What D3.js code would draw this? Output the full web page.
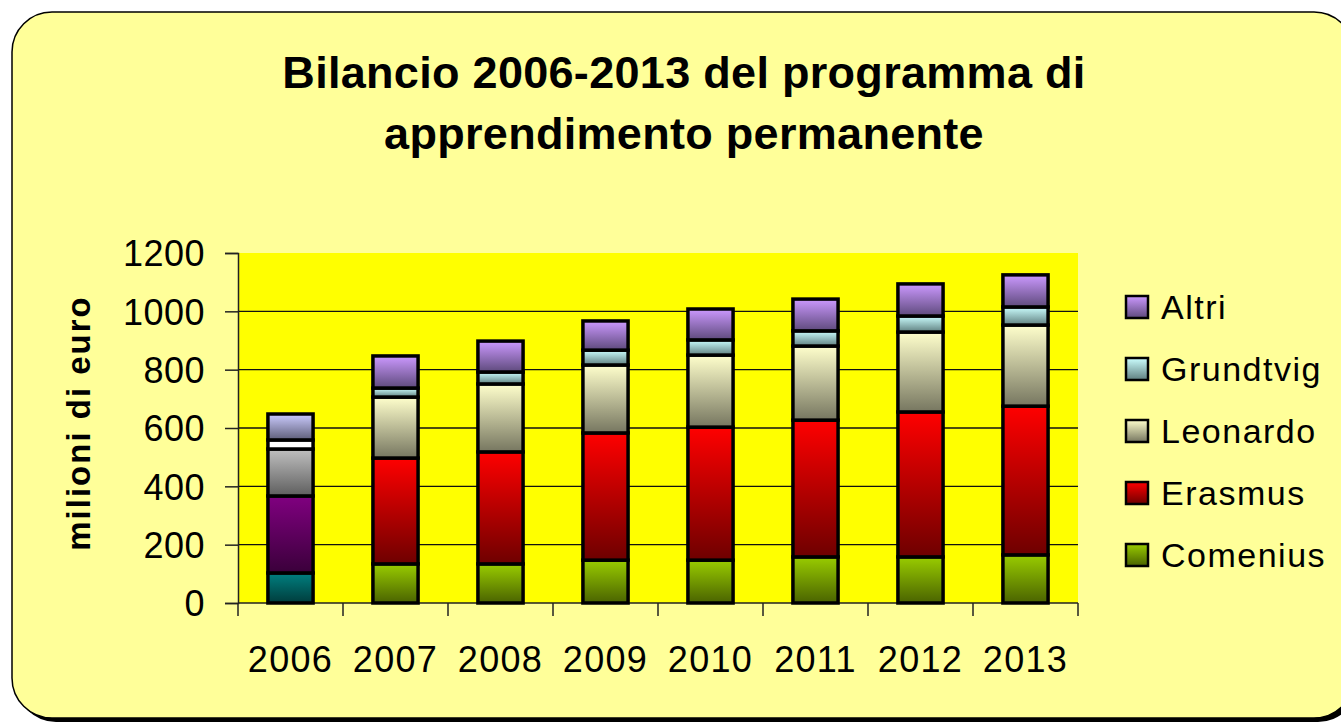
<!DOCTYPE html>
<html>
<head>
<meta charset="utf-8">
<title>Bilancio 2006-2013 del programma di apprendimento permanente</title>
<script src="https://cdn.jsdelivr.net/npm/d3@7"></script>
<style>
  body { margin: 0; background: #fff; }
  svg { display: block; }
</style>
</head>
<body>
<script>
  // Dati (milioni di euro)
  const anni = ["2006", "2007", "2008", "2009", "2010", "2011", "2012", "2013"];
  const comenius  = [103, 134, 134, 147, 147, 158, 158, 165];
  const erasmus   = [264, 363, 384, 436, 456, 469, 497, 510];
  const leonardo  = [161, 209, 233, 233, 247, 254, 274, 278];
  const grundtvig = [31, 31, 41, 51, 52, 52, 55, 62];
  const altri     = [89, 110, 106, 100, 106, 109, 110, 110];
  const serie = ["Comenius", "Erasmus", "Leonardo", "Grundtvig", "Altri"];
  const yTicks = [0, 200, 400, 600, 800, 1000, 1200];

  const valori = { Comenius: comenius, Erasmus: erasmus, Leonardo: leonardo, Grundtvig: grundtvig, Altri: altri };
  const tabella = anni.map(function (a, i) {
    const r = { anno: a };
    serie.forEach(function (s) { r[s] = valori[s][i]; });
    return r;
  });

  // colori: chiaro in alto, scuro in basso
  const colori = {
    Comenius:  ["#99cc00", "#4a6300"],
    Erasmus:   ["#ff0000", "#6e0000"],
    Leonardo:  ["#ffffcc", "#767660"],
    Grundtvig: ["#ccffff", "#5f7f7f"],
    Altri:     ["#cc99ff", "#5e4a7c"]
  };
  // la barra del 2006 ha colori diversi
  const colori2006 = {
    Comenius:  ["#008080", "#003c3c"],
    Erasmus:   ["#800080", "#3a003a"],
    Leonardo:  ["#c0c0c0", "#5e5e5e"],
    Grundtvig: ["#ffffff", "#ffffff"],
    Altri:     ["#ccccff", "#5e5e78"]
  };

  const w = 1341, h = 727;
  const pLeft = 238, pRight = 1078, pTop = 253, pBottom = 603;
  const font = "Liberation Sans, Arial, sans-serif";

  const svg = d3.select("body").append("svg")
    .attr("width", w)
    .attr("height", h);

  const defs = svg.append("defs");
  function gradiente(id, c) {
    const g = defs.append("linearGradient")
      .attr("id", id)
      .attr("x1", 0).attr("y1", 0).attr("x2", 0).attr("y2", 1);
    g.append("stop").attr("offset", "0%").attr("stop-color", c[0]);
    g.append("stop").attr("offset", "100%").attr("stop-color", c[1]);
  }
  serie.forEach(function (s) {
    gradiente("g-" + s, colori[s]);
    gradiente("g2006-" + s, colori2006[s]);
  });

  // cornice con ombra
  svg.append("rect")
    .attr("x", 16).attr("y", 16)
    .attr("width", 1342).attr("height", 706)
    .attr("rx", 40).attr("ry", 40)
    .attr("fill", "#000");
  svg.append("rect")
    .attr("x", 12).attr("y", 12)
    .attr("width", 1342).attr("height", 706)
    .attr("rx", 40).attr("ry", 40)
    .attr("fill", "#ffff99")
    .attr("stroke", "#000")
    .attr("stroke-width", 1.5);

  // titolo
  const titolo = svg.append("text")
    .attr("text-anchor", "middle")
    .attr("font-family", font)
    .attr("font-weight", "bold")
    .attr("font-size", "45px")
    .attr("letter-spacing", "0.3px")
    .attr("fill", "#000");
  titolo.append("tspan").attr("x", 684).attr("y", 88).text("Bilancio 2006-2013 del programma di");
  titolo.append("tspan").attr("x", 684).attr("y", 149).text("apprendimento permanente");

  // scale
  const x = d3.scaleBand()
    .domain(anni)
    .range([pLeft, pRight])
    .paddingInner(0.57)
    .paddingOuter(0.285);
  const step = x.step();

  const y = d3.scaleLinear()
    .domain([0, 1200])
    .range([pBottom, pTop]);

  // area del grafico
  svg.append("rect")
    .attr("x", pLeft).attr("y", pTop)
    .attr("width", pRight - pLeft).attr("height", pBottom - pTop)
    .attr("fill", "#ffff00");

  // griglia
  svg.selectAll("line.griglia")
    .data(yTicks.filter(function (d) { return d > 0 && d < 1200; }))
    .enter()
    .append("line")
    .attr("class", "griglia")
    .attr("x1", pLeft).attr("x2", pRight)
    .attr("y1", function (d) { return y(d); })
    .attr("y2", function (d) { return y(d); })
    .attr("stroke", "#111")
    .attr("stroke-width", 1.3);

  // asse y
  const assey = svg.append("g")
    .attr("transform", "translate(" + pLeft + ",0)")
    .call(d3.axisLeft(y).tickValues(yTicks).tickFormat(d3.format("d")).tickSize(13).tickPadding(20));
  assey.select(".domain").attr("stroke", "#222").attr("stroke-width", 1.5);
  assey.selectAll(".tick line").attr("stroke", "#222").attr("stroke-width", 1.5);
  assey.selectAll(".tick text")
    .attr("font-family", font)
    .attr("font-size", "36px")
    .attr("letter-spacing", "0.5px")
    .attr("fill", "#000")
    .attr("dy", "0.36em");

  // asse x con tacche tra le categorie
  const assex = svg.append("g")
    .attr("transform", "translate(0," + pBottom + ")");
  assex.append("line")
    .attr("x1", pLeft).attr("x2", pRight)
    .attr("stroke", "#222").attr("stroke-width", 1.5);
  assex.selectAll("line.tacca")
    .data(d3.range(anni.length + 1))
    .enter()
    .append("line")
    .attr("class", "tacca")
    .attr("x1", function (i) { return pLeft + i * step; })
    .attr("x2", function (i) { return pLeft + i * step; })
    .attr("y1", 0).attr("y2", 13)
    .attr("stroke", "#222").attr("stroke-width", 1.5);
  assex.selectAll("text")
    .data(anni)
    .enter()
    .append("text")
    .attr("x", function (d) { return x(d) + x.bandwidth() / 2; })
    .attr("y", 69)
    .attr("text-anchor", "middle")
    .attr("font-family", font)
    .attr("font-size", "36px")
    .attr("letter-spacing", "1.3px")
    .attr("fill", "#000")
    .text(function (d) { return d; });

  // barre impilate
  const stack = d3.stack().keys(serie)(tabella);
  const gruppi = svg.selectAll("g.serie")
    .data(stack)
    .enter()
    .append("g")
    .attr("class", "serie");
  gruppi.selectAll("rect")
    .data(function (d) { return d.map(function (p) { return { s: d.key, p: p }; }); })
    .enter()
    .append("rect")
    .attr("x", function (d) { return x(d.p.data.anno); })
    .attr("y", function (d) { return y(d.p[1]); })
    .attr("width", x.bandwidth())
    .attr("height", function (d) { return y(d.p[0]) - y(d.p[1]); })
    .attr("fill", function (d) {
      return d.p.data.anno === "2006" ? "url(#g2006-" + d.s + ")" : "url(#g-" + d.s + ")";
    })
    .attr("stroke", "#000")
    .attr("stroke-width", 3.5);

  // titolo asse y
  svg.append("text")
    .attr("transform", "translate(90,423) rotate(-90)")
    .attr("text-anchor", "middle")
    .attr("font-family", font)
    .attr("font-weight", "bold")
    .attr("font-size", "33px")
    .attr("letter-spacing", "2px")
    .attr("fill", "#000")
    .text("milioni di euro");

  // legenda
  const legenda = svg.selectAll("g.legenda")
    .data(serie.slice().reverse())
    .enter()
    .append("g")
    .attr("class", "legenda")
    .attr("transform", function (d, i) { return "translate(1125," + (307 + i * 62) + ")"; });
  legenda.append("rect")
    .attr("x", 1).attr("y", -11)
    .attr("width", 22).attr("height", 22)
    .attr("fill", function (d) { return "url(#g-" + d + ")"; })
    .attr("stroke", "#000")
    .attr("stroke-width", 2.5);
  legenda.append("text")
    .attr("x", 36)
    .attr("y", 0)
    .attr("dy", "0.36em")
    .attr("font-family", font)
    .attr("font-size", "34px")
    .attr("letter-spacing", "1.5px")
    .attr("fill", "#000")
    .text(function (d) { return d; });
</script>
</body>
</html>
